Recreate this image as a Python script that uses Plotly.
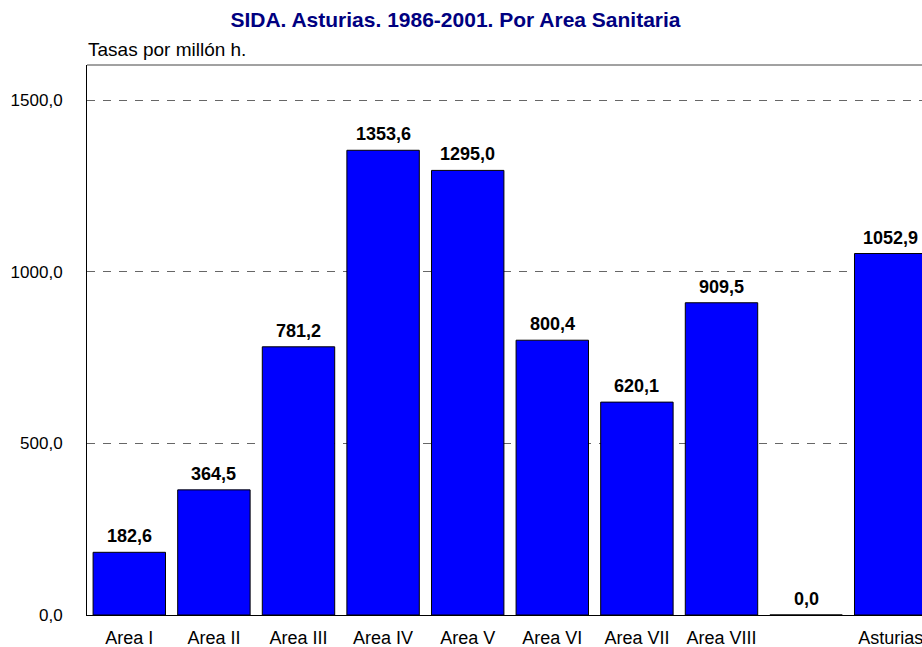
import plotly.graph_objects as go

categories = ["Area I", "Area II", "Area III", "Area IV", "Area V", "Area VI",
              "Area VII", "Area VIII", "", "Asturias"]
values = [182.6, 364.5, 781.2, 1353.6, 1295.0, 800.4, 620.1, 909.5, 0.0, 1052.9]
y_ticks = [0, 500, 1000, 1500]

positions = list(range(len(categories)))
FONT = "Liberation Sans, Arial"

fig = go.Figure()
fig.add_trace(go.Bar(
    x=positions, y=values, width=0.856,
    marker=dict(color="#0000FF", line=dict(color="black", width=1)),
    hoverinfo="skip",
))

for p, v in zip(positions, values):
    fig.add_annotation(
        x=p, y=v, xref="x", yref="y", yanchor="bottom", yshift=4,
        text=f"{v:.1f}".replace(".", ","), showarrow=False,
        font=dict(family=FONT, size=18, color="black", weight="bold"),
    )

fig.add_annotation(
    x=0, y=1, xref="paper", yref="paper", xanchor="left", yanchor="bottom",
    yshift=3, xshift=-1,
    text="Tasas por millón h.", showarrow=False,
    font=dict(family=FONT, size=19, color="black"),
)

# top border of the plot area
fig.add_shape(type="line", xref="paper", yref="paper", x0=0, x1=1, y0=1, y1=1,
              line=dict(color="#444444", width=1))

fig.update_layout(
    width=922, height=647,
    margin=dict(l=87, r=0, t=65, b=32),
    paper_bgcolor="white", plot_bgcolor="white",
    separators=",.",
    showlegend=False,
    title=dict(
        text="<b>SIDA. Asturias. 1986-2001. Por Area Sanitaria</b>",
        x=0.494, xanchor="center", y=0.969, yanchor="middle",
        font=dict(family=FONT, size=21, color="#000080"),
    ),
    xaxis=dict(
        range=[-0.5, 9.37],
        tickvals=positions, ticktext=categories,
        showgrid=False, zeroline=False,
        showline=True, linecolor="black", linewidth=1,
        ticks="outside", ticklen=6, tickcolor="rgba(0,0,0,0)",
        ticklabeloverflow="allow",
        tickfont=dict(family=FONT, size=18, color="black"),
    ),
    yaxis=dict(
        range=[0, 1602],
        tickvals=y_ticks, tickformat=".1f",
        showgrid=True, gridcolor="#666666", griddash="8px,8px", gridwidth=1,
        zeroline=False,
        showline=True, linecolor="black", linewidth=1,
        ticks="outside", ticklen=20, tickcolor="rgba(0,0,0,0)",
        tickfont=dict(family=FONT, size=17, color="black"),
    ),
)

fig.write_html(
    "out.html",
    config={"displayModeBar": False},
    post_script="document.body.style.margin='0';document.body.style.overflow='hidden';",
)
